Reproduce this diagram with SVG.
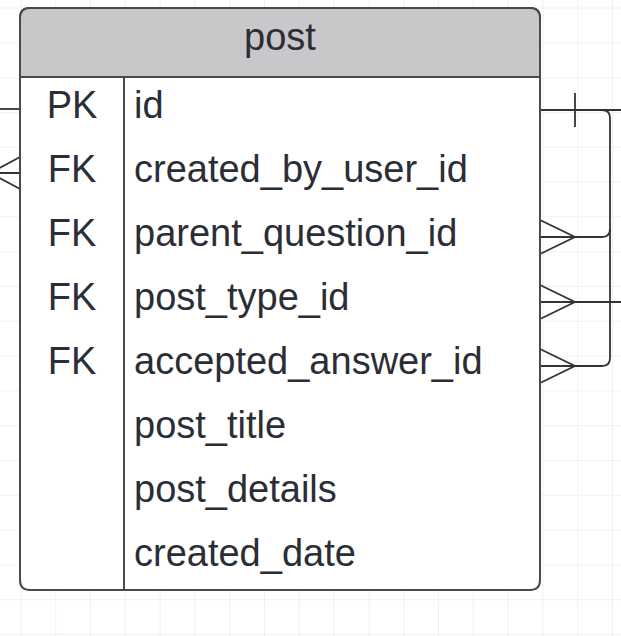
<svg xmlns="http://www.w3.org/2000/svg" width="621" height="636" viewBox="0 0 621 636">
  <defs>
    <pattern id="grid" x="20.4" y="7.6" width="34.8" height="34.8" patternUnits="userSpaceOnUse">
      <path d="M0,0 H34.8 M0,0 V34.8" fill="none" stroke="#e4e4e9" stroke-width="1"/>
    </pattern>
    <style>
      .txt { font-family: "Liberation Sans", Arial, sans-serif; font-size: 38px; fill: #2b2e34; }
      .key { text-anchor: middle; }
      .ln { fill: none; stroke: #333333; stroke-width: 1.8; }
      .box { stroke: #4a4a4a; stroke-width: 2; }
    </style>
  </defs>
  <rect x="0" y="0" width="621" height="636" fill="#ffffff"/>
  <rect x="0" y="0" width="621" height="636" fill="url(#grid)"/>

  <g id="connectors">
    <!-- left: PK line -->
    <path class="ln" d="M0,109 H20"/>
    <!-- left: crow's foot on created_by_user_id -->
    <path class="ln" d="M0,173 H20 M20,157 L-10,173 L20,189"/>
    <!-- right: self references from id -->
    <path class="ln" d="M540,110 H621 M575,93 V127"/>
    <path class="ln" d="M540,110 H602 Q610,110 610,118 V229 Q610,237 602,237 H540"/>
    <path class="ln" d="M610,229 V358 Q610,366 602,366 H540"/>
    <path class="ln" d="M540,220 L575,237 L540,254"/>
    <path class="ln" d="M540,349 L575,366 L540,383"/>
    <!-- right: post_type_id -->
    <path class="ln" d="M540,302 H621 M540,285 L575,302 L540,319"/>
  </g>

  <g id="post">
    <path class="box" fill="#ffffff" d="M30,8 H530 Q540,8 540,18 V580 Q540,590 530,590 H30 Q20,590 20,580 V18 Q20,8 30,8 Z"/>
    <path class="box" fill="#c8c8cb" d="M30,8 H530 Q540,8 540,18 V77 H20 V18 Q20,8 30,8 Z"/>
    <line class="box" x1="124" y1="77" x2="124" y2="590"/>
    <text class="txt" x="280" y="50" text-anchor="middle">post</text>
    <text class="txt key" x="72" y="118">PK</text>
    <text class="txt key" x="72" y="182">FK</text>
    <text class="txt key" x="72" y="246">FK</text>
    <text class="txt key" x="72" y="310">FK</text>
    <text class="txt key" x="72" y="374">FK</text>
    <text class="txt" x="134" y="118">id</text>
    <text class="txt" x="134" y="182">created_by_user_id</text>
    <text class="txt" x="134" y="246">parent_question_id</text>
    <text class="txt" x="134" y="310">post_type_id</text>
    <text class="txt" x="134" y="374">accepted_answer_id</text>
    <text class="txt" x="134" y="438">post_title</text>
    <text class="txt" x="134" y="502">post_details</text>
    <text class="txt" x="134" y="566">created_date</text>
  </g>
</svg>
